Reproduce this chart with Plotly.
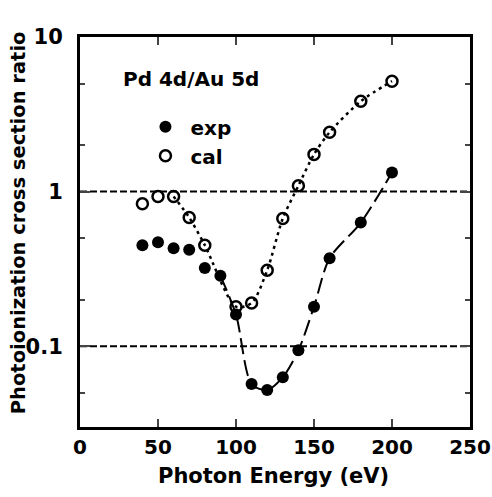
import plotly.graph_objects as go

energy = [40, 50, 60, 70, 80, 90, 100, 110, 120, 130, 140, 150, 160, 180, 200]
exp_ratio = [0.45, 0.47, 0.43, 0.42, 0.32, 0.285, 0.16, 0.057, 0.052, 0.063, 0.094, 0.18, 0.37, 0.63, 1.33]
cal_energy = [40, 50, 60, 70, 80, 100, 110, 120, 130, 140, 150, 160, 180, 200]
cal_ratio = [0.835, 0.93, 0.93, 0.68, 0.45, 0.18, 0.19, 0.31, 0.67, 1.09, 1.74, 2.42, 3.84, 5.18]
ref_levels = [1, 0.1]
x_ticks = [0, 50, 100, 150, 200, 250]
y_ticks = [0.1, 1, 10]
y_tick_text = ["0.1", "1", "10"]

FONT = "DejaVu Sans"
fig = go.Figure()

for lv in ref_levels:
    fig.add_hline(y=lv, line=dict(color="black", width=2, dash="7px,3px"), layer="below")

# line for cal (from 60 eV on)
ci = [i for i, e in enumerate(cal_energy) if e >= 60]
fig.add_trace(go.Scatter(x=[cal_energy[i] for i in ci], y=[cal_ratio[i] for i in ci],
                         mode="lines", line=dict(color="black", width=2.5, dash="3px,4px", shape="spline", smoothing=0.8),
                         showlegend=False, hoverinfo="skip"))
# line for exp (from 90 eV on)
ei = [i for i, e in enumerate(energy) if e >= 90]
fig.add_trace(go.Scatter(x=[energy[i] for i in ei], y=[exp_ratio[i] for i in ei],
                         mode="lines", line=dict(color="black", width=2, dash="16px,6px", shape="spline", smoothing=0.8),
                         showlegend=False, hoverinfo="skip"))

fig.add_trace(go.Scatter(x=energy, y=exp_ratio, mode="markers", name="exp",
                         marker=dict(symbol="circle", size=12, color="black")))
fig.add_trace(go.Scatter(x=cal_energy, y=cal_ratio, mode="markers", name="cal",
                         marker=dict(symbol="circle-open", size=11, color="black", line=dict(width=2.5, color="black"))))

fig.add_annotation(text="Pd 4d/Au 5d", xref="paper", yref="paper", x=0.105, y=0.893,
                   xanchor="left", yanchor="middle", showarrow=False,
                   font=dict(family=FONT, size=20, weight="bold", color="black"))

# axis titles
fig.add_annotation(text="Photon Energy (eV)", xref="paper", yref="paper", x=0.497, y=-0.126,
                   xanchor="center", yanchor="middle", showarrow=False,
                   font=dict(family=FONT, size=21, weight="bold", color="black"))
fig.add_annotation(text="Photoionization cross section ratio", xref="paper", yref="paper", x=-0.159, y=0.525,
                   xanchor="center", yanchor="middle", showarrow=False, textangle=-90,
                   font=dict(family=FONT, size=19.5, weight="bold", color="black"))

fig.update_layout(
    width=492, height=497,
    margin=dict(l=80, r=22, t=37, b=70),
    paper_bgcolor="white", plot_bgcolor="white",
    font=dict(family=FONT, color="black"),
    legend=dict(x=0.155, y=0.82, xanchor="left", yanchor="top", bgcolor="rgba(0,0,0,0)",
                font=dict(family=FONT, size=20, weight="bold", color="black"), itemwidth=40, tracegroupgap=0),
)
fig.update_xaxes(range=[0, 250], tickvals=x_ticks, ticks="inside", ticklen=8, tickwidth=2,
                 showline=True, linecolor="black", linewidth=3, mirror="ticks", showgrid=False, zeroline=False,
                 automargin=False, ticklabelstandoff=0,
                 tickfont=dict(family=FONT, size=20, weight="bold", color="black"))
fig.update_yaxes(type="log", range=[-1.523, 1], tickvals=y_ticks, ticktext=y_tick_text,
                 ticks="inside", ticklen=10, tickwidth=2,
                 minor=dict(ticks="inside", ticklen=5, tickwidth=2, dtick="D2", showgrid=False),
                 showline=True, linecolor="black", linewidth=3, mirror="ticks", showgrid=False, zeroline=False,
                 automargin=False, ticklabelstandoff=10,
                 tickfont=dict(family=FONT, size=21, weight="bold", color="black"))

# remove the default 8px page margin so the figure fills the window exactly
fig.write_html("out.html", config={"displayModeBar": False},
               post_script="document.body.style.margin='0';document.body.style.overflow='hidden';")
